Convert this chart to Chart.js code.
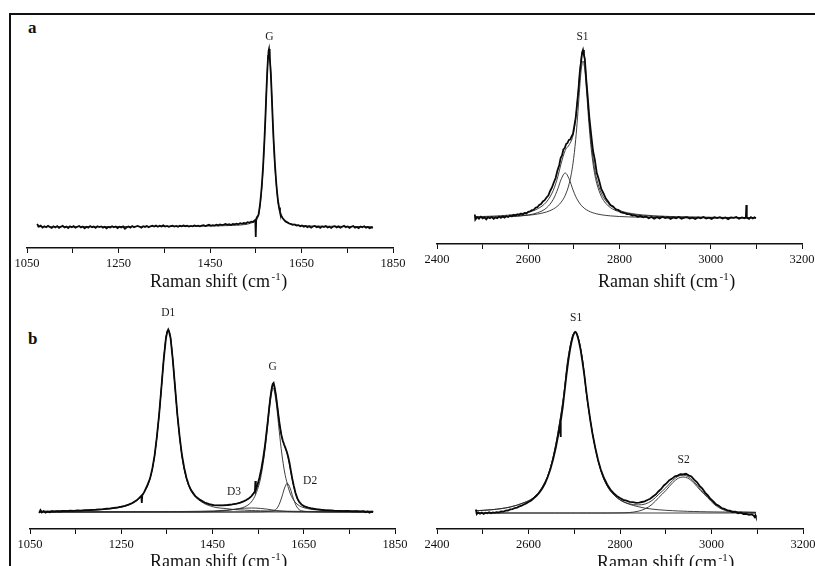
<!DOCTYPE html>
<html>
<head>
<meta charset="utf-8">
<script src="https://cdn.jsdelivr.net/npm/chart.js@4/dist/chart.umd.min.js"></script>
<style>
  html, body { margin: 0; padding: 0; background: #fff; overflow: hidden; }
  body { width: 815px; height: 566px; position: relative; font-family: 'Liberation Serif', serif; }
  .frame { position: absolute; left: 9px; top: 13px; width: 840px; height: 600px;
           border-top: 2px solid #111; border-left: 2px solid #111; }
  canvas { position: absolute; }
  .tag { position: absolute; font: bold 17px 'Liberation Serif', serif; color: #111; line-height: 20px; }
</style>
</head>
<body>
<div class="frame"></div>
<div class="tag" style="left:28px;top:18px">a</div>
<div class="tag" style="left:28px;top:329px">b</div>
<canvas id="c-a1" width="406" height="278" style="left:7px;top:20px"></canvas>
<canvas id="c-a2" width="405" height="274" style="left:417px;top:20px"></canvas>
<canvas id="c-b1" width="405" height="289" style="left:10px;top:290px"></canvas>
<canvas id="c-b2" width="406" height="289" style="left:417px;top:290px"></canvas>
<script>
/* ════════════════════════════════════════════
   Raman spectra — first- and second-order bands
   ════════════════════════════════════════════ */

// ── Axis ticks ───────────────────────────────
const lowTicks = [1050, 1150, 1250, 1350, 1450, 1550, 1650, 1750, 1850];
const lowTickLabels = [1050, 1250, 1450, 1650, 1850];
const highTicks = [2400, 2500, 2600, 2700, 2800, 2900, 3000, 3100, 3200];
const highTickLabels = [2400, 2600, 2800, 3000, 3200];

// ── (a) first order: measured ─────────────────
const aLoShift = [1072,1076,1080,1084,1088,1092,1096,1100,1104,1108,1112,1116,1120,1124,1128,1132,1136,1140,1144,1148,
  1152,1156,1160,1164,1168,1172,1176,1180,1184,1188,1192,1196,1200,1204,1208,1212,1216,1220,1224,1228,
  1232,1236,1240,1244,1248,1252,1256,1260,1264,1268,1272,1276,1280,1284,1288,1292,1296,1300,1304,1308,
  1312,1316,1320,1324,1328,1332,1336,1340,1344,1348,1352,1356,1360,1364,1368,1372,1376,1380,1384,1388,
  1392,1396,1400,1404,1408,1412,1416,1420,1424,1428,1432,1436,1440,1444,1448,1452,1456,1460,1464,1468,
  1472,1476,1480,1484,1488,1492,1496,1500,1504,1508,1512,1516,1520,1524,1528,1532,1536,1540,1544,1547,
  1549,1550,1551,1553,1556,1559,1561,1563,1566,1569,1571,1573,1575,1577,1578,1579,1580,1581,1583,1585,
  1587,1589,1592,1595,1597,1599,1601,1603,1606,1609,1612,1615,1619,1623,1627,1631,1635,1639,1643,1647,
  1651,1655,1659,1663,1667,1671,1675,1679,1683,1687,1691,1695,1699,1703,1707,1711,1715,1719,1723,1727,
  1731,1735,1739,1743,1747,1751,1755,1759,1763,1767,1771,1775,1779,1783,1787,1791,1795,1799,1803,1806];
const aLoCounts = [3,0.5,1.4,-0.6,0.8,-0.2,1.2,0,-1,0.7,-0.4,0.9,-0.8,0.3,1.1,-0.5,0.4,-1.1,0.6,-0.3,
  0.8,-0.7,0.2,1,-0.4,0.5,-1.2,0.3,-0.6,0.9,-0.2,0.4,-0.9,0.7,-0.1,0.6,-0.8,0.2,-1.4,0.1,
  -0.5,0.8,-0.3,0.5,-1,0.3,-0.4,0.6,-1.8,-0.2,0.4,-0.7,0.9,-0.3,0.5,1.1,0.2,-0.6,0.8,0.1,
  1,-0.2,0.7,1.3,0.4,1.5,0.3,1.2,0.6,1.6,0.5,1.1,0.2,0.9,1.4,0.4,1,0.3,1.2,0.6,
  1.5,0.8,1.3,0.5,1.1,0.7,1.6,0.9,1.4,0.6,1.3,1.8,1,1.7,2.2,1.2,1.9,1.4,2.3,1.6,
  2.5,1.9,2.4,3,2.2,2.8,2,3.1,2.6,3.4,2.7,3.8,3.2,4.1,3.6,4.8,4.3,5.4,5,6.4,
  7,-10,8,10,12,21,30,40,60,87,108,132,154,171,176,178,176,170,153,131,
  108,87,62,43,33,25,19.5,15,11,8.8,7,5.6,4.6,3.5,2.8,2.2,2.6,1.4,1.9,0.8,
  1.4,0.3,1,-0.2,0.7,-0.6,0.5,1.1,-0.3,0.4,-0.8,0.6,0,0.9,-0.5,0.3,-1,0.4,0.8,-0.4,
  0.6,-0.7,0.2,1.1,-0.2,0.5,-0.9,0.3,0.9,-0.6,0.1,-1.1,0.4,-0.3,0.7,-0.8,0,-1.2,-0.4,-1];

// ── (a) first order: fitted G band ────────────
const aLoFitShift = [1072,1200,1350,1450,1500,1529,1539,1549,1555,1559,1563,1566,1569,1571,1573,1575,1577,
  1579,1581,1583,1585,1587,1589,1592,1595,1599,1603,1609,1619,1629,1649,1700,1806];
const aLoFitG = [0.3,0.4,0.6,1,1.6,2.6,3.8,6,10,20,38,58,86,108,132,154,171,
  178,171,154,132,108,86,60,42,24,15,8.5,4.6,3,1.5,0.8,0.4];

// ── (a) second order: measured ────────────────
const aHiShift = [2483,2484,2488,2492,2496,2500,2504,2508,2512,2516,2520,2524,2528,2532,2536,2540,2544,2548,2552,2556,
  2560,2564,2568,2572,2576,2580,2584,2588,2592,2596,2600,2604,2608,2612,2616,2620,2624,2628,2632,2636,
  2640,2644,2648,2652,2656,2660,2664,2668,2671,2674,2677,2680,2683,2686,2689,2692,2695,2698,2701,2704,
  2707,2710,2713,2716,2718,2720,2722,2724,2727,2730,2734,2738,2742,2746,2750,2755,2760,2765,2770,2775,
  2780,2786,2792,2798,2804,2810,2816,2822,2828,2834,2840,2846,2852,2858,2864,2870,2876,2882,2888,2894,
  2900,2906,2912,2918,2924,2930,2936,2942,2948,2954,2960,2966,2972,2978,2984,2990,2996,3002,3008,3014,
  3020,3026,3032,3038,3044,3050,3056,3062,3068,3074,3077,3078,3079,3084,3088,3092,3096,3099];
const aHiCounts = [3.5,-1.5,0.9,-0.7,1.3,-0.4,0.6,-1.3,0.8,-0.2,1,-0.9,0.5,-0.3,1.4,0.2,1.6,0.4,1.9,1,
  2.5,1.6,3.2,2.4,3.6,3,4.4,3.5,5,4.6,6.2,6.5,7.8,8.2,10.3,10.8,13,14,16.6,17.8,
  20.5,22.5,27,30.5,35.5,40,47.5,53,60,62.5,68.5,70,74,75,78,78.5,81.5,84,92,100,
  114,128,146,157,165,168,163,159,139,123,100,83,67,58,45.5,38,29,24.5,19.5,16.5,
  13,11.5,8.5,8,5.6,5.2,3.8,3.9,2.4,2.8,1.2,2,0.6,1.5,-0.2,1.1,-0.6,0.8,-0.4,1.2,
  0,0.7,-0.9,0.5,-0.3,1,-0.8,0.4,0.9,-0.6,0.3,-1,0.6,-0.2,1.1,-0.5,0.4,-0.9,0.7,0,
  0.8,-0.6,0.5,-1.1,0.6,0.1,1,-0.7,0.5,-0.2,0.8,13,0.4,-0.8,0.9,-0.4,0.6,-0.2];

// ── (a) second order: fitted bands ────────────
const aHiFitShift = [2483,2520,2560,2600,2620,2640,2655,2665,2672,2681,2690,2698,2704,2708,2712,2716,2720,
  2724,2728,2732,2736,2740,2745,2750,2760,2770,2780,2800,2820,2850,2900,2950,3000,3050,3099];
const aHiFitS1 = [0.71,1,1.55,2.74,3.92,6.04,8.97,12.25,15.7,22.6,34.8,54.3,78.5,100.5,125.6,147.8,157,
  147.8,125.6,100.5,78.5,61.3,45.6,34.8,21.7,14.6,10.4,6.04,3.92,2.34,1.23,0.76,0.51,0.37,0.28];
const aHiFitShoulder = [0.55,0.82,1.44,3.09,5.18,10.1,18.8,29.4,38.6,45,38.6,28.2,21.5,18,15.1,12.7,10.9,
  9.3,8.1,7.06,6.2,5.5,4.76,4.15,3.24,2.59,2.12,1.49,1.1,0.75,0.45,0.3,0.2,0.15,0.11];
const aHiFitSum = [1.26,1.82,2.99,5.83,9.1,16.1,27.8,41.7,54.3,67.6,73.4,82.5,100,118.5,140.7,160.5,167.9,
  157.1,133.7,107.6,84.7,66.8,50.4,38.9,24.9,17.2,12.5,7.5,5,3.1,1.7,1.06,0.71,0.52,0.39];

// ── (b) first order: measured ─────────────────
const bLoShift = [1070,1073,1076,1080,1084,1088,1093,1098,1104,1110,1116,1122,1130,1138,1146,1154,1162,1170,1178,1186,
  1194,1202,1210,1218,1226,1234,1242,1250,1258,1266,1274,1283,1290,1294,1295,1296,1300,1306,1313,1318,
  1323,1328,1333,1338,1343,1348,1351,1353,1355,1358,1363,1368,1373,1378,1383,1388,1393,1398,1403,1413,
  1423,1433,1443,1453,1463,1473,1483,1493,1503,1511,1518,1524,1530,1535,1540,1543,1544,1545,1549,1553,
  1557,1561,1565,1568,1571,1574,1577,1580,1582,1584,1586,1589,1592,1595,1598,1601,1604,1607,1610,1613,
  1616,1619,1622,1625,1628,1632,1636,1640,1645,1652,1660,1668,1677,1686,1696,1706,1716,1726,1736,1746,
  1756,1766,1774,1780,1786,1790,1794,1798,1802];
const bLoCounts = [-1,1.8,-0.4,0.9,-0.6,0.4,-0.2,0.7,0.3,0.9,0.5,1.1,0.8,1.3,1.1,1.6,1.4,1.9,1.8,2.2,
  2.3,2.7,2.9,3.3,3.6,4.2,4.7,5.3,6.2,7.4,9,11.4,14.3,16.2,9,16.6,19.6,25.5,33.4,43,
  56.2,75,97.5,124.5,152.4,174,180.5,182.5,180,174.3,152.2,124.6,97.3,75.2,57,44,34,27,22,15.6,
  12.1,9.5,7.8,6.9,6.6,6.7,7,7.6,8.4,9.4,10.6,12,13.8,15.6,18.6,20.5,31,22,27.5,34.5,
  43,53.5,66,78,90,103,115,124,128,129,125,117,106,95,85,77,71.5,67.5,64,60,
  55,48.5,40.5,33,26.5,19,13.6,10.2,7.6,5.6,4.4,3.5,2.8,2.4,1.9,1.7,1.3,1.2,0.9,1.1,
  0.6,0.9,0.3,0.8,-0.2,0.6,-0.6,0.4,0];

// ── (b) first order: fitted bands ─────────────
const bLoFitShift = [1070,1100,1150,1200,1230,1260,1283,1300,1313,1323,1333,1338,1343,1348,1353,1358,1363,1368,
  1373,1383,1393,1403,1423,1453,1480,1500,1520,1535,1545,1555,1563,1570,1576,1583,1590,1596,1602,1608,
  1614,1620,1627,1635,1645,1660,1680,1710,1750,1802];
const bLoFitD1 = [0.55,0.75,1.2,2.1,3.3,6,11,19.5,33,56,97,124,152,174,182,174,152,124,
  97,56,33,21,11,5,3.4,2.3,1.9,1.5,1.3,1.2,1.1,1.05,1,0.95,0.9,0.87,0.83,0.8,
  0.77,0.74,0.7,0.66,0.62,0.56,0.5,0.42,0.35,0.28];
const bLoFitG = [0.1,0.1,0.15,0.2,0.22,0.25,0.28,0.3,0.32,0.33,0.35,0.36,0.37,0.38,0.4,0.42,0.44,0.46,
  0.48,0.5,0.55,0.6,0.75,1.1,1.8,2.8,5.1,10,18,33,55,82,108,124,108,82,58,40,
  28,19,12.5,8,5.2,3.2,2,1.15,0.7,0.45];
const bLoFitD2 = [0.05,0.05,0.05,0.05,0.05,0.05,0.05,0.05,0.05,0.05,0.05,0.05,0.05,0.05,0.05,0.05,0.05,0.05,
  0.05,0.05,0.05,0.05,0.05,0.05,0.05,0.05,0.1,0.15,0.2,0.25,0.35,0.5,0.8,1.2,3,7.5,15,24,
  28.7,24,13.8,5,1.2,0.45,0.2,0.1,0.05,0.05];
const bLoFitD3 = [0,0,0,0,0,0,0,0,0,0,0,0,0,0,0,0,0,0,
  0,0,0,0.05,0.1,0.5,1.5,2.8,3.8,4,3.9,3.6,3.2,2.8,2.4,1.9,1.5,1.15,0.9,0.7,
  0.5,0.38,0.27,0.2,0.12,0.06,0,0,0,0];
const bLoFitSum = [0.7,0.9,1.4,2.35,3.57,6.3,11.3,19.85,33.4,56.4,97.4,124.4,152.4,174.4,182.5,174.5,152.5,124.5,
  97.5,56.6,33.6,21.7,11.9,6.65,6.75,7.95,10.9,15.65,23.4,38.05,59.65,86.35,112.2,128.05,113.4,91.5,74.7,65.5,
  58,44.1,27.3,13.9,7.1,4.3,2.7,1.67,1.1,0.78];
const bLoBaseShift = [1070, 1802];
const bLoBase = [0, 0];

// ── (b) second order: measured ────────────────
const bHiShift = [2485,2487,2490,2494,2498,2502,2506,2510,2514,2518,2522,2526,2530,2535,2540,2545,2550,2555,2560,2565,
  2570,2575,2580,2585,2590,2595,2600,2606,2612,2618,2624,2630,2636,2642,2648,2654,2660,2665,2669,2670,
  2671,2675,2679,2683,2687,2691,2694,2697,2700,2702,2704,2707,2710,2714,2718,2722,2726,2730,2735,2740,
  2746,2752,2758,2765,2772,2779,2786,2793,2800,2807,2814,2821,2828,2835,2842,2848,2854,2860,2866,2872,
  2878,2884,2890,2896,2902,2908,2914,2920,2926,2932,2938,2944,2950,2956,2962,2968,2974,2980,2986,2992,
  2998,3004,3010,3016,3022,3028,3034,3040,3046,3052,3058,3064,3070,3076,3082,3088,3092,3094,3096,3097];
const bHiCounts = [3.5,-1,0.6,-0.6,0.4,-0.9,0.3,-0.3,0.8,-0.2,0.6,0.1,0.9,0.5,1.5,1.3,2.4,2.5,3.6,3.9,
  5,5.4,6.6,7.4,8.5,9.6,10.9,12.6,14.8,17.5,20.5,24.5,29.5,36,44,54,66,78,89,76,
  92,106,122,138,152,164,171,176.5,180,181,180.5,177,172,163,151,138,123,109,93,79,
  65,53,43.5,35,28.5,23.5,19.8,17,15,13.2,12.3,11.2,10.8,10.2,10.4,11,11.6,13,14.2,16.5,
  18.5,21.5,24,27.5,29.8,32.8,34.4,36.6,37.4,38.8,38.6,39.2,37.6,36.6,33.4,31,27.2,24.4,20.4,17.6,
  14,11.6,8.6,7.2,5,4.2,2.6,2.4,1,1.3,-0.2,0.4,-1,-0.8,-1.8,-1.4,-2.6,-4,-2.2,-3.5];

// ── (b) second order: fitted bands ────────────
const bHiFitShift = [2485,2520,2560,2590,2610,2630,2645,2657,2667,2677,2685,2692,2697,2702,2707,2712,2719,2727,
  2737,2747,2759,2772,2787,2802,2820,2840,2855,2870,2885,2900,2915,2928,2938,2948,2961,2976,2991,3006,
  3025,3048,3070,3097];
const bHiFitS1 = [2.3,3.3,6,10.3,15,25.8,41,62.6,87.5,118,150.2,169,178,181,178,169,150.2,118,
  87.5,62.6,41,27,18,12.5,8.8,6.3,4.8,3.9,3.2,2.7,2.3,2,1.85,1.65,1.5,1.35,1.2,1.08,
  0.98,0.88,0.78,0.62];
const bHiFitS2 = [0,0,0,0,0,0,0,0,0,0,0,0,0,0,0,0,0,0,
  0,0,0,0,0.05,0.15,0.45,1.8,4.2,8.6,15.6,22.4,30.2,34.9,36,34.9,30.2,22.4,15.6,8.6,
  3.4,0.8,0.15,0.05];
const bHiFitSum = [2.3,3.3,6,10.3,15,25.8,41,62.6,87.5,118,150.2,169,178,181,178,169,150.2,118,
  87.5,62.6,41,27,18.05,12.65,9.25,8.1,9,12.5,18.8,25.1,32.5,36.9,37.85,36.55,31.7,23.75,16.8,9.68,
  4.38,1.68,0.93,0.67];
const bHiBaseShift = [2485, 3097];
const bHiBase = [0, 0];

// ── Peak labels ──────────────────────────────
const aLoPeaks = [{ text: 'G', x: 1580, y: 190 }];
const aHiPeaks = [{ text: 'S1', x: 2719, y: 181 }];
const bLoPeaks = [
  { text: 'D1', x: 1353, y: 199 }, { text: 'G', x: 1582, y: 145 },
  { text: 'D3', x: 1497, y: 20 }, { text: 'D2', x: 1664, y: 31 }
];
const bHiPeaks = [{ text: 'S1', x: 2704, y: 195 }, { text: 'S2', x: 2939, y: 53 }];

// ── Helpers ──────────────────────────────────
const SERIF = "'Liberation Serif', 'Times New Roman', serif";

function pts(xs, ys) { return xs.map((x, i) => ({ x, y: ys[i] })); }

function measured(xs, ys) {
  return { data: pts(xs, ys), borderColor: '#0a0a0a', borderWidth: 1.8, pointRadius: 0, tension: 0 };
}
function fitted(xs, ys) {
  return { data: pts(xs, ys), borderColor: '#2a2a2a', borderWidth: 0.9, pointRadius: 0,
           cubicInterpolationMode: 'monotone' };
}

// peak names placed on the data scales
const peakLabels = {
  id: 'peakLabels',
  afterDatasetsDraw(chart, args, o) {
    const { ctx, scales } = chart;
    ctx.save();
    ctx.fillStyle = '#1a1a1a';
    ctx.font = `11.5px ${SERIF}`;
    ctx.textAlign = 'center';
    ctx.textBaseline = 'middle';
    (o.items || []).forEach(p => {
      ctx.fillText(p.text, scales.x.getPixelForValue(p.x), scales.y.getPixelForValue(p.y));
    });
    ctx.restore();
  }
};

// "Raman shift (cm-1)" with a raised exponent
const shiftTitle = {
  id: 'shiftTitle',
  afterDraw(chart, args, o) {
    const { ctx, chartArea } = chart;
    let x = chartArea.left + o.dx;
    const y = chartArea.bottom + o.dy;
    ctx.save();
    ctx.fillStyle = '#111';
    ctx.textBaseline = 'alphabetic';
    ctx.font = `18px ${SERIF}`;
    ctx.fillText('Raman shift (cm', x, y);
    x += ctx.measureText('Raman shift (cm').width + 1.5;
    ctx.font = `11px ${SERIF}`;
    ctx.fillText('-1', x, y - 7);
    x += ctx.measureText('-1').width + 0.5;
    ctx.font = `18px ${SERIF}`;
    ctx.fillText(')', x, y);
    ctx.restore();
  }
};

function buildPanel(id, cfg) {
  return new Chart(document.getElementById(id), {
    type: 'line',
    data: { datasets: cfg.datasets },
    options: {
      responsive: false, animation: false, devicePixelRatio: 1,
      layout: { padding: { left: 20, right: 20, top: cfg.padTop, bottom: 0 } },
      plugins: {
        legend: { display: false }, tooltip: { enabled: false },
        peakLabels: { items: cfg.peaks },
        shiftTitle: { dx: cfg.titleDx, dy: cfg.titleDy }
      },
      scales: {
        x: {
          type: 'linear', min: cfg.ticks[0], max: cfg.ticks[cfg.ticks.length - 1],
          afterBuildTicks: s => { s.ticks = cfg.ticks.map(v => ({ value: v })); },
          afterFit: s => { s.height = 50; },
          grid: { drawOnChartArea: false, drawTicks: true, tickLength: 5, color: '#111', lineWidth: 1 },
          border: { display: true, color: '#111', width: 1.4 },
          ticks: {
            autoSkip: false, maxRotation: 0, padding: 3, color: '#111',
            font: { family: SERIF, size: 12.5 },
            callback: v => cfg.tickLabels.includes(v) ? String(v) : ''
          }
        },
        y: { display: false, min: cfg.yRange[0], max: cfg.yRange[1] }
      }
    },
    plugins: [peakLabels, shiftTitle]
  });
}

// ── Panels ───────────────────────────────────
buildPanel('c-a1', {
  ticks: lowTicks, tickLabels: lowTickLabels, yRange: [-21, 200], padTop: 7,
  titleDx: 123, titleDy: 39, peaks: aLoPeaks,
  datasets: [measured(aLoShift, aLoCounts), fitted(aLoFitShift, aLoFitG)]
});

buildPanel('c-a2', {
  ticks: highTicks, tickLabels: highTickLabels, yRange: [-26, 191], padTop: 7,
  titleDx: 161, titleDy: 43, peaks: aHiPeaks,
  datasets: [
    measured(aHiShift, aHiCounts),
    fitted(aHiFitShift, aHiFitSum),
    fitted(aHiFitShift, aHiFitS1),
    fitted(aHiFitShift, aHiFitShoulder)
  ]
});

buildPanel('c-b1', {
  ticks: lowTicks, tickLabels: lowTickLabels, yRange: [-17, 207], padTop: 15,
  titleDx: 120, titleDy: 38, peaks: bLoPeaks,
  datasets: [
    measured(bLoShift, bLoCounts),
    fitted(bLoFitShift, bLoFitSum),
    fitted(bLoFitShift, bLoFitD1),
    fitted(bLoFitShift, bLoFitG),
    fitted(bLoFitShift, bLoFitD2),
    fitted(bLoFitShift, bLoFitD3),
    fitted(bLoBaseShift, bLoBase)
  ]
});

buildPanel('c-b2', {
  ticks: highTicks, tickLabels: highTickLabels, yRange: [-16, 208], padTop: 15,
  titleDx: 160, titleDy: 39, peaks: bHiPeaks,
  datasets: [
    measured(bHiShift, bHiCounts),
    fitted(bHiFitShift, bHiFitSum),
    fitted(bHiFitShift, bHiFitS1),
    fitted(bHiFitShift, bHiFitS2),
    fitted(bHiBaseShift, bHiBase)
  ]
});
</script>
</body>
</html>
